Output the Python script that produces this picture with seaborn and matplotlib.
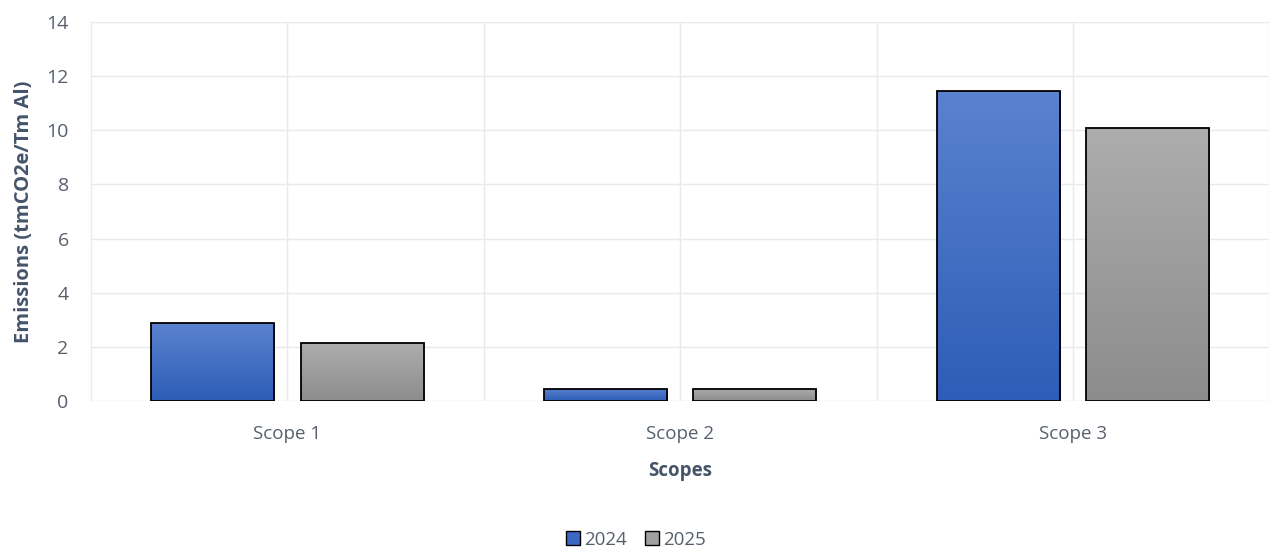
import numpy as np
import pandas as pd
import matplotlib
matplotlib.use("Agg")
import matplotlib.pyplot as plt
from matplotlib.colors import LinearSegmentedColormap
from matplotlib.patches import Patch
import seaborn as sns

# Emission intensity per scope, by year
scopes = ["Scope 1", "Scope 2", "Scope 3"]
years = ["2024", "2025"]
emissions_2024 = [2.88, 0.45, 11.47]
emissions_2025 = [2.14, 0.45, 10.07]
y_ticks = [0, 2, 4, 6, 8, 10, 12, 14]

df = pd.DataFrame({
    "Scopes": scopes * 2,
    "Year": [years[0]] * len(scopes) + [years[1]] * len(scopes),
    "Emissions": emissions_2024 + emissions_2025,
})

sns.set_theme(style="white")
plt.rcParams["font.family"] = ["Open Sans", "DejaVu Sans"]

tick_color = "#56606C"
title_color = "#44546A"
grid_color = "#E8EAEF"

# gradient end points (top, bottom) for each series
gradients = {
    "2024": ("#5B82CF", "#2D5DB7"),
    "2025": ("#ADADAD", "#8C8C8C"),
}
palette = {y: gradients[y][1] for y in years}

fig = plt.figure(figsize=(12.72, 5.52), dpi=100)
ax = fig.add_axes([0.0715, 0.2736, 0.9265, 0.6864])

sns.barplot(data=df, x="Scopes", y="Emissions", hue="Year", order=scopes,
            hue_order=years, palette=palette, width=0.76, gap=0.176,
            edgecolor="black", linewidth=1.3, saturation=1, legend=False, ax=ax)

n = len(scopes)

# replace the flat fills with vertical gradients clipped to each bar
for i, bar in enumerate(list(ax.patches)):
    year = years[i // n]
    top_c, bot_c = gradients[year]
    cmap = LinearSegmentedColormap.from_list("g" + year, [bot_c, top_c])
    x0, y0 = bar.get_x(), bar.get_y()
    w, h = bar.get_width(), bar.get_height()
    grad = np.linspace(0, 1, 256).reshape(-1, 1)
    im = ax.imshow(grad, cmap=cmap, origin="lower", aspect="auto",
                   extent=[x0, x0 + w, y0, y0 + h], zorder=bar.get_zorder() - 0.05,
                   interpolation="bicubic")
    im.set_clip_path(bar)
    bar.set_facecolor("none")

ax.set_xlim(-0.5, n - 0.5)
ax.set_ylim(0, 14)

# grid: horizontal at ticks, vertical at category centres and boundaries
ax.set_axisbelow(True)
ax.set_yticks(y_ticks)
ax.yaxis.grid(True, color=grid_color, linewidth=1.0)
ax.xaxis.set_minor_locator(matplotlib.ticker.FixedLocator(np.arange(-0.5, n, 1.0)))
ax.xaxis.grid(True, which="both", color=grid_color, linewidth=1.0)
ax.tick_params(axis="both", which="both", length=0)
for s in ax.spines.values():
    s.set_visible(False)

ax.tick_params(axis="y", labelsize=14, labelcolor=tick_color, pad=16)
ax.tick_params(axis="x", labelsize=13.5, labelcolor=tick_color, pad=17)

ax.set_xlabel("Scopes", fontsize=13.5, fontweight="bold", color=title_color, labelpad=13)
ax.set_ylabel("Emissions (tmCO2e/Tm Al)", fontsize=14.5, fontweight="bold",
              color=title_color, labelpad=9)

handles = [Patch(facecolor="#3A68C2" if y == "2024" else "#A0A0A0",
                 edgecolor="black", linewidth=1.0, label=y) for y in years]
fig.legend(handles=handles, loc="center", bbox_to_anchor=(0.5, 0.022), ncol=2,
           frameon=False, fontsize=13.5, handlelength=0.75, handleheight=0.75,
           handletextpad=0.2, columnspacing=1.0, labelcolor=tick_color)

fig.savefig("out.png", dpi=100, facecolor="white")
